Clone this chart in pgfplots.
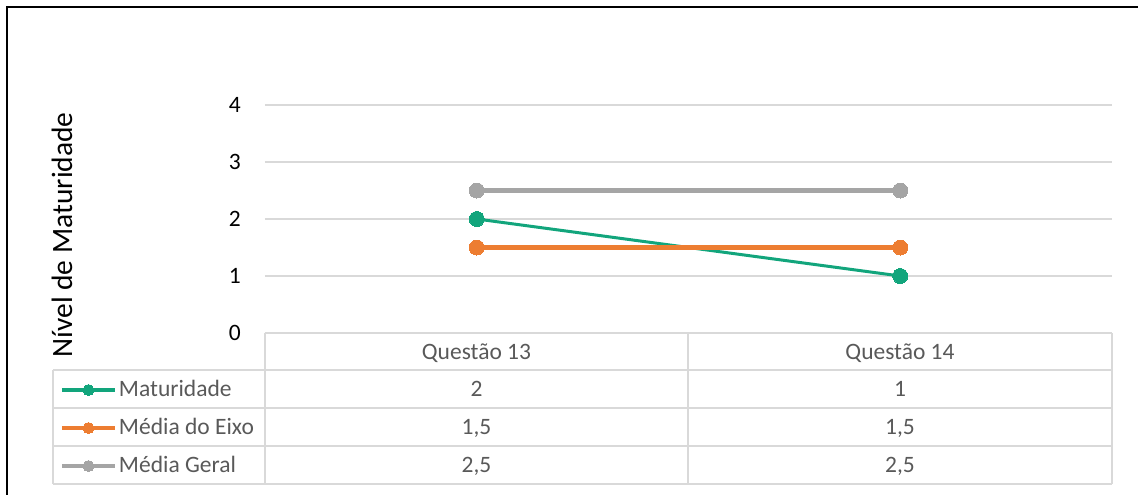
\documentclass[border=0pt]{standalone}
\usepackage{pgfplots}
\pgfplotsset{compat=1.18}
\usepackage{fontspec}
\setmainfont{Carlito}
\definecolor{cgreen}{RGB}{18,165,124}
\definecolor{corange}{HTML}{ED7D31}
\definecolor{cgray}{HTML}{A5A5A5}
\definecolor{cgrid}{HTML}{D9D9D9}
\definecolor{ctext}{HTML}{595959}
\newcommand{\tfont}{\fontsize{23.5}{28}\selectfont}
\begin{document}
\begin{tikzpicture}
\path[use as bounding box] (0pt,0pt) rectangle (1138pt,-495pt);
\draw[black, line width=2pt] (7pt,-495pt) -- (7pt,-7pt) -- (1138pt,-7pt);
\begin{axis}[
  at={(265pt,-333pt)}, anchor=south west,
  scale only axis, width=847pt, height=228pt,
  xmin=0.5, xmax=2.5, ymin=0, ymax=4,
  clip=false,
  axis line style={draw=none},
  xtick=\empty, ytick={0,1,2,3,4},
  ymajorgrids, grid style={cgrid, line width=2pt},
  major tick length=0pt,
  /pgf/number format/assume math mode=true,
  yticklabel style={font=\tfont, text=black, inner sep=0pt, anchor=east, xshift=-24pt},
  ylabel={Nível de Maturidade},
  ylabel style={font=\fontsize{29.5}{34}\selectfont, at={(axis description cs:-0.2397,0.43)}, anchor=center},
  legend cell align=left,
  legend style={at={(axis description cs:-0.24203,-0.16228)}, anchor=north west,
    draw=none, fill=none, inner sep=0pt, outer sep=0pt, row sep=0pt,
    font=\tfont, text=ctext,
    nodes={inner sep=0pt, text height=26pt, text depth=12pt},
    /tikz/every odd column/.append style={column sep=2pt}},
  legend image code/.code={
    \draw[#1,line width=4pt,mark=none] (0pt,-1pt) -- (53pt,-1pt);
    \draw[#1,line width=0pt,mark size=5.5pt] plot coordinates {(26.5pt,-1pt)};
  },
]
\addplot[cgreen, line width=3pt, mark=*, mark size=7.5pt, mark options={line width=0pt}] coordinates {(1,2) (2,1)};
\addlegendentry{Maturidade}
\addplot[corange, line width=5pt, mark=*, mark size=7.5pt, mark options={line width=0pt}] coordinates {(1,1.5) (2,1.5)};
\addlegendentry{Média do Eixo}
\addplot[cgray, line width=5pt, mark=*, mark size=7.5pt, mark options={line width=0pt}] coordinates {(1,2.5) (2,2.5)};
\addlegendentry{Média Geral}
\end{axis}
\begin{scope}[cgrid, line width=2pt]
\foreach \y in {370,408,446,484} \draw (53pt,-\y pt) -- (1112pt,-\y pt);
\draw (53pt,-370pt) -- (53pt,-484pt);
\foreach \x in {265,688,1112} \draw (\x pt,-333pt) -- (\x pt,-484pt);
\end{scope}
\begin{scope}[every node/.style={font=\tfont, text=ctext, anchor=base, inner sep=0pt}]
\node at (476.5pt,-359pt) {Questão 13};
\node at (900pt,-359pt) {Questão 14};
\node at (476.5pt,-396pt) {2};
\node at (900pt,-396pt) {1};
\node at (476.5pt,-434pt) {1,5};
\node at (900pt,-434pt) {1,5};
\node at (476.5pt,-472pt) {2,5};
\node at (900pt,-472pt) {2,5};
\end{scope}
\end{tikzpicture}
\end{document}
